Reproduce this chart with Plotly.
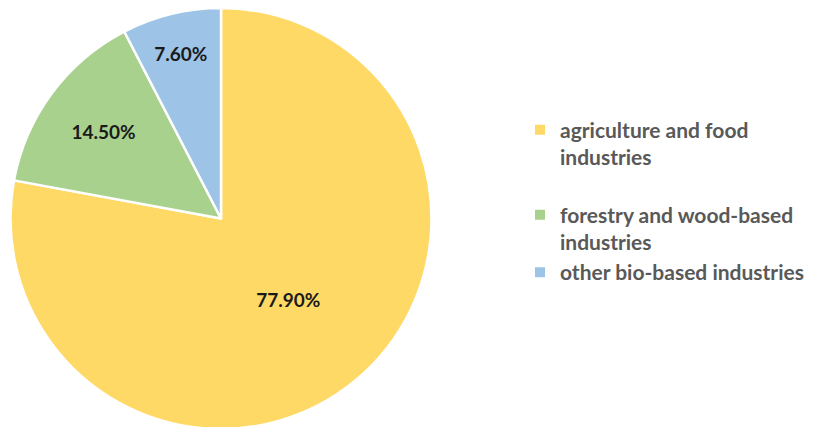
import plotly.graph_objects as go

categories = ["agriculture and food<br>industries<br>", "forestry and wood-based<br>industries", "other bio-based industries"]
values = [77.9, 14.5, 7.6]
colors = ["#FFD966", "#A9D18E", "#9DC3E6"]

fig = go.Figure(go.Pie(
    labels=categories,
    values=values,
    sort=False,
    direction="clockwise",
    rotation=0,
    marker=dict(colors=colors, line=dict(color="white", width=2.5)),
    texttemplate="%{value:.2f}%",
    textposition="inside",
    insidetextorientation="horizontal",
    textfont=dict(family="Lato", size=19, color="#1a1a1a", weight="bold"),
    hoverinfo="label+percent",
    domain=dict(x=[2/821, 424/821], y=[6/427, 1]),
))

fig.update_layout(
    width=821, height=427,
    margin=dict(l=0, r=0, t=0, b=0),
    paper_bgcolor="white",
    showlegend=True,
    legend=dict(
        x=0.6236, y=0.762, xanchor="left", yanchor="top",
        valign="top",
        font=dict(family="Lato", size=21, color="#595959", weight="bold"),
        itemsizing="constant",
        tracegroupgap=0,
    ),
)

fig.write_html("out.html")
